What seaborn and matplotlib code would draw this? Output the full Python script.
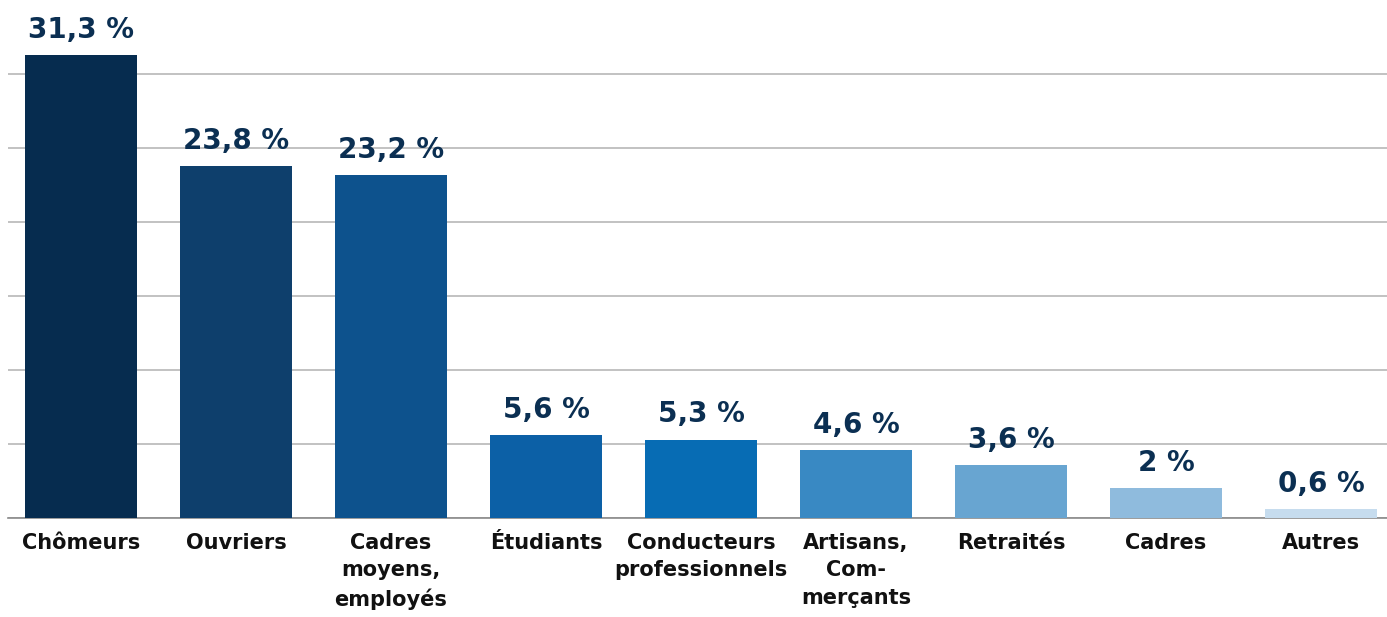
import seaborn as sns
import matplotlib.pyplot as plt
import pandas as pd

# categories and shares (%)
categories = ["Chômeurs", "Ouvriers", "Cadres\nmoyens,\nemployés", "Étudiants",
              "Conducteurs\nprofessionnels", "Artisans,\nCom-\nmerçants",
              "Retraités", "Cadres", "Autres"]
values = [31.3, 23.8, 23.2, 5.6, 5.3, 4.6, 3.6, 2, 0.6]
value_labels = ["31,3 %", "23,8 %", "23,2 %", "5,6 %", "5,3 %", "4,6 %",
                "3,6 %", "2 %", "0,6 %"]
bar_colors = ["#062c4f", "#0e3f6c", "#0d528d", "#0c60a6", "#076cb4",
              "#3989c3", "#68a5d1", "#8fbbdd", "#c6dcee"]

sns.set_style("white")
plt.rcParams['font.family'] = ['DejaVu Sans']

df = pd.DataFrame({"cat": categories, "val": values})

fig = plt.figure(figsize=(13.87, 6.17), dpi=100)
ax = fig.add_axes([8 / 1387, 99 / 617, 1 - 8 / 1387, 518 / 617])

sns.barplot(data=df, x="cat", y="val", hue="cat", palette=bar_colors,
            legend=False, width=0.72, saturation=1, linewidth=0,
            ax=ax, zorder=3)

ax.set_xlim(-0.471, 8.426)
ax.set_ylim(0, 35)
ax.set_yticks([0, 5, 10, 15, 20, 25, 30])
ax.yaxis.grid(True, color="#b8b8b8", linewidth=1.2, zorder=0)
ax.set_yticklabels([])
ax.tick_params(axis="y", length=0)
ax.tick_params(axis="x", length=0, pad=11)
for s in ["top", "right", "left"]:
    ax.spines[s].set_visible(False)
ax.spines["bottom"].set_color("#8a8a8a")
ax.spines["bottom"].set_linewidth(1.2)
ax.set_xlabel("")
ax.set_ylabel("")

for lab in ax.get_xticklabels():
    lab.set_fontsize(15)
    lab.set_fontweight("bold")
    lab.set_color("#111111")
    lab.set_linespacing(1.45)
    lab.set_verticalalignment("top")

# value labels above each bar
for p in ax.patches:
    h = p.get_height()
    if h == 0:
        continue
    idx = values.index(h)
    ax.text(p.get_x() + p.get_width() / 2, h, value_labels[idx],
            transform=ax.transData, ha="center", va="bottom",
            fontsize=20, weight="bold", color="#0b2f52",
            zorder=5).set_y(h + 0.75)

fig.savefig("out.png", dpi=100)
